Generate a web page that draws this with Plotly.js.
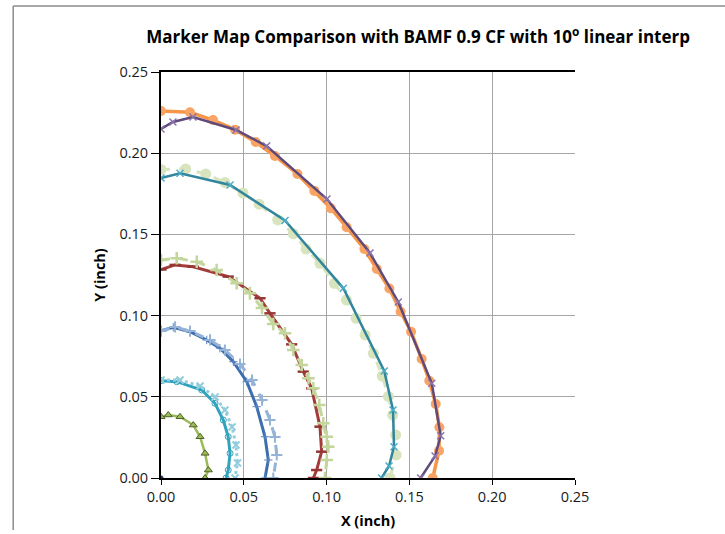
<!DOCTYPE html>
<html>
<head>
<meta charset="utf-8">
<script src="https://cdn.plot.ly/plotly-3.0.1.min.js"></script>
<style>
  html, body { margin: 0; padding: 0; background: #ffffff; }
  #chart { width: 725px; height: 534px; }
</style>
</head>
<body>
<div id="chart"></div>
<script>
// Marker positions (inch) for each contour, outermost first
const orangeX = [0, 0.0175, 0.0314, 0.0447, 0.0572, 0.0688, 0.0824, 0.0926, 0.1025, 0.1121, 0.1228, 0.1303, 0.1379, 0.1447, 0.1510, 0.1574, 0.1620, 0.1659, 0.1681, 0.1679, 0.1641];
const orangeY = [0.2260, 0.2252, 0.2204, 0.2145, 0.2069, 0.1983, 0.1872, 0.1768, 0.1661, 0.1544, 0.1410, 0.1287, 0.1167, 0.1024, 0.0901, 0.0733, 0.0599, 0.0456, 0.0312, 0.0168, 0.0];

const purpleX = [0, 0.0072, 0.0193, 0.0453, 0.0638, 0.1002, 0.1262, 0.1433, 0.1635, 0.1689, 0.1655, 0.1568];
const purpleY = [0.2149, 0.2192, 0.2223, 0.2143, 0.2044, 0.1718, 0.1385, 0.1084, 0.0583, 0.0260, 0.0135, 0.0];

const sageX = [0, 0.0149, 0.0270, 0.0386, 0.0495, 0.0592, 0.0705, 0.0799, 0.0876, 0.0960, 0.1047, 0.1120, 0.1178, 0.1232, 0.1282, 0.1336, 0.1373, 0.1399, 0.1417, 0.1420, 0.1383];
const sageY = [0.1900, 0.1903, 0.1872, 0.1820, 0.1755, 0.1686, 0.1589, 0.1504, 0.1410, 0.1322, 0.1199, 0.1096, 0.0983, 0.0881, 0.0768, 0.0628, 0.0502, 0.0388, 0.0265, 0.0142, 0.0];

const tealX = [0, 0.0115, 0.0417, 0.0749, 0.1101, 0.1348, 0.1401, 0.1407, 0.1377, 0.1332];
const tealY = [0.1847, 0.1876, 0.1804, 0.1586, 0.1168, 0.0659, 0.0419, 0.0193, 0.0074, 0.0];

const redX = [0, 0.0085, 0.0195, 0.0406, 0.0598, 0.0658, 0.0789, 0.0859, 0.0910, 0.0960, 0.0970, 0.0940, 0.0920];
const redY = [0.1284, 0.1312, 0.1301, 0.1240, 0.1107, 0.1014, 0.0823, 0.0655, 0.0552, 0.0316, 0.0162, 0.0049, 0.0];

const limeX = [0, 0.0095, 0.0216, 0.0336, 0.0457, 0.0537, 0.0610, 0.0678, 0.0749, 0.0799, 0.0850, 0.0890, 0.0920, 0.0956, 0.0980, 0.1001, 0.1010, 0.1001, 0.0990];
const limeY = [0.1342, 0.1353, 0.1332, 0.1281, 0.1199, 0.1137, 0.1047, 0.0948, 0.0891, 0.0788, 0.0696, 0.0614, 0.0552, 0.0450, 0.0337, 0.0254, 0.0193, 0.0111, 0.0];

const blueX = [0, 0.0074, 0.0175, 0.0276, 0.0356, 0.0437, 0.0518, 0.0578, 0.0628, 0.0648, 0.0628];
const blueY = [0.0907, 0.0928, 0.0901, 0.0850, 0.0799, 0.0716, 0.0593, 0.0439, 0.0254, 0.0111, 0.0];

const skyX = [0, 0.0085, 0.0175, 0.0296, 0.0386, 0.0477, 0.0550, 0.0610, 0.0658, 0.0688, 0.0699, 0.0678];
const skyY = [0.0905, 0.0930, 0.0905, 0.0850, 0.0788, 0.0702, 0.0603, 0.0480, 0.0357, 0.0252, 0.0142, 0.0];

const cyanX = [0, 0.0095, 0.0246, 0.0326, 0.0376, 0.0406, 0.0417, 0.0406, 0.0393];
const cyanY = [0.0599, 0.0593, 0.0542, 0.0460, 0.0357, 0.0254, 0.0152, 0.0049, 0.0];

const aquaX = [0, 0.0115, 0.0236, 0.0326, 0.0386, 0.0429, 0.0453, 0.0462, 0.0447];
const aquaY = [0.0603, 0.0603, 0.0567, 0.0499, 0.0419, 0.0314, 0.0203, 0.0092, 0.0];

const oliveX = [0, 0.0044, 0.0115, 0.0195, 0.0236, 0.0266, 0.0286, 0.0266];
const oliveY = [0.0377, 0.0388, 0.0377, 0.0326, 0.0254, 0.0152, 0.0049, 0.0];

const originX = [0];
const originY = [0];

const tickVals = [0, 0.05, 0.10, 0.15, 0.20, 0.25];
const tickText = ['0.00', '0.05', '0.10', '0.15', '0.20', '0.25'];

function series(x, y, line, marker) {
  return { x: x, y: y, type: 'scatter', mode: 'lines+markers', line: line, marker: marker, showlegend: false, hoverinfo: 'x+y' };
}

const traces = [
  series(orangeX, orangeY, { color: '#f79646', width: 3.5 }, { symbol: 'circle', size: 10, color: '#f9a465' }),
  series(purpleX, purpleY, { color: '#604a7b', width: 2.5 }, { symbol: 'x-thin', size: 7, line: { color: '#8b74ad', width: 1.5 } }),
  series(sageX, sageY, { color: '#d7e4bd', width: 3, dash: 'dash' }, { symbol: 'circle', size: 11, color: '#d7e4bd' }),
  series(tealX, tealY, { color: '#31859c', width: 2.5 }, { symbol: 'x-thin', size: 7, line: { color: '#4bacc6', width: 1.5 } }),
  series(redX, redY, { color: '#a33c3a', width: 3 }, { symbol: 'line-ew', size: 8, line: { color: '#953735', width: 2.5 } }),
  series(limeX, limeY, { color: '#c3d69b', width: 3, dash: 'dash' }, { symbol: 'cross-thin', size: 9, line: { color: '#c3d69b', width: 2.5 } }),
  series(blueX, blueY, { color: '#3c6eb0', width: 3 }, { symbol: 'cross-thin', size: 6, line: { color: '#5b86c2', width: 1 } }),
  series(skyX, skyY, { color: '#95b3d7', width: 3, dash: 'dash' }, { symbol: 'cross-thin', size: 8, line: { color: '#95b3d7', width: 2 } }),
  series(cyanX, cyanY, { color: '#31a3bd', width: 3 }, { symbol: 'circle-open', size: 6, line: { color: '#31859c', width: 1 } }),
  series(aquaX, aquaY, { color: '#93cddd', width: 3, dash: 'dot' }, { symbol: 'x-thin', size: 7, line: { color: '#93cddd', width: 2 } }),
  series(oliveX, oliveY, { color: '#9bbb59', width: 2.5 }, { symbol: 'triangle-up', size: 7, color: '#9bbb59', line: { color: '#4f6228', width: 1 } }),
  series(originX, originY, { color: '#1f3864', width: 2 }, { symbol: 'circle', size: 5, color: '#1f3864' })
];

const fontFamily = 'Open Sans, Liberation Sans, sans-serif';
const axisFont = { family: fontFamily, size: 14.5, color: '#1a1a1a' };
const axisTitleFont = { family: fontFamily, size: 14.5, color: '#000000', weight: 'bold' };

const layout = {
  width: 725,
  height: 534,
  margin: { l: 161, r: 150, t: 72, b: 56 },
  paper_bgcolor: '#ffffff',
  plot_bgcolor: '#ffffff',
  title: {
    text: 'Marker Map Comparison with BAMF 0.9 CF with 10<sup>o</sup> linear interp',
    font: { family: fontFamily, size: 17, color: '#000000', weight: 'bold' },
    x: 0.621, xref: 'paper', xanchor: 'center',
    y: 0.93, yref: 'container', yanchor: 'middle'
  },
  xaxis: {
    range: [0, 0.25],
    tickvals: tickVals, ticktext: tickText,
    ticks: 'outside', ticklen: 5, tickcolor: '#000000',
    showline: true, linecolor: '#000000', linewidth: 2, mirror: true,
    showgrid: true, gridcolor: '#a6a6a6', gridwidth: 1,
    zeroline: false,
    tickfont: axisFont,
    title: { text: 'X (inch)', font: axisTitleFont, standoff: 10 }
  },
  yaxis: {
    range: [0, 0.25],
    tickvals: tickVals, ticktext: tickText,
    ticks: 'outside', ticklen: 8, tickcolor: '#000000',
    showline: true, linecolor: '#000000', linewidth: 2,
    showgrid: true, gridcolor: '#a6a6a6', gridwidth: 1,
    zeroline: false,
    tickfont: axisFont,
    title: { text: 'Y (inch)', font: axisTitleFont, standoff: 10 }
  },
  shapes: [
    { type: 'line', xref: 'paper', yref: 'paper', x0: -0.357, x1: 1.37, y0: 1.1626, y1: 1.1626, line: { color: '#8c8c8c', width: 1.5 } },
    { type: 'line', xref: 'paper', yref: 'paper', x0: -0.357, x1: -0.357, y0: 1.1626, y1: -0.128, line: { color: '#8c8c8c', width: 1.5 } }
  ]
};

Plotly.newPlot('chart', traces, layout, { displayModeBar: false, staticPlot: true });
</script>
</body>
</html>
